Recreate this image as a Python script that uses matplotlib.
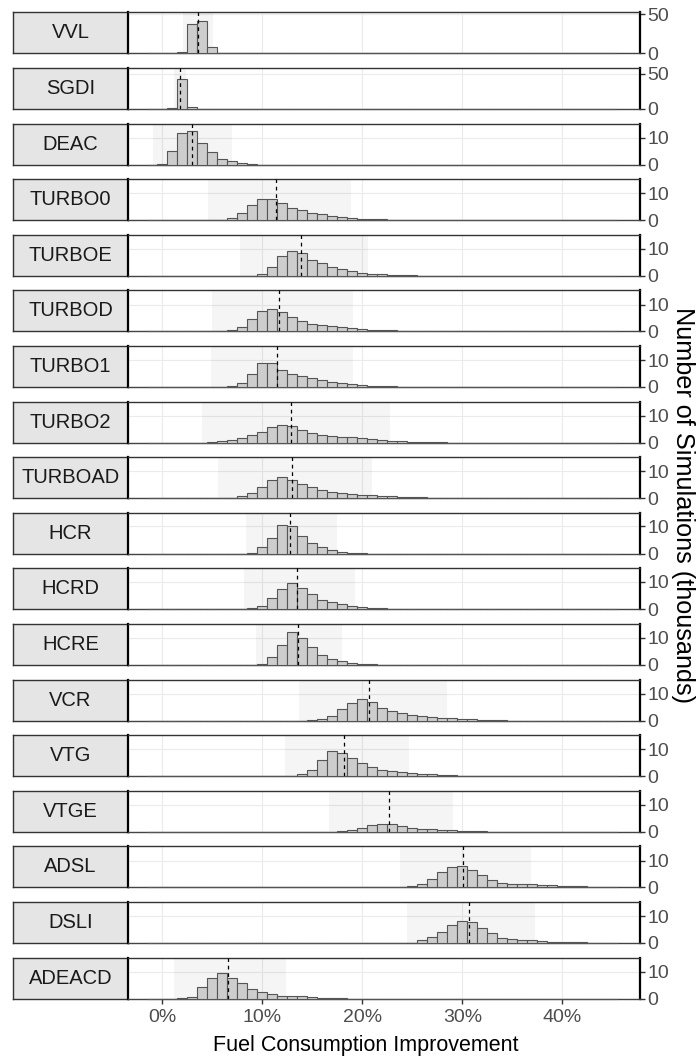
import numpy as np
import matplotlib
matplotlib.use("Agg")
import matplotlib.pyplot as plt

plt.rcParams['font.family'] = ['Liberation Sans', 'DejaVu Sans']

# facet labels, top to bottom
techs = ["VVL", "SGDI", "DEAC", "TURBO0", "TURBOE", "TURBOD", "TURBO1", "TURBO2",
         "TURBOAD", "HCR", "HCRD", "HCRE", "VCR", "VTG", "VTGE", "ADSL", "DSLI", "ADEACD"]

# histogram counts (thousands), 1% bins; first_bin = centre (%) of first listed bar
first_bin = [2, 1, 0, 7, 10, 7, 7, 5, 8, 9, 9, 10, 15, 14, 18, 25, 25, 2]
counts = [
    [1.3, 38, 41.2, 8.4],
    [1.9, 42.9, 2.9],
    [0.2, 5.1, 11.5, 12.4, 8.1, 4.5, 2.1, 1.25, 0.6, 0.25],
    [0.9, 2.7, 5.6, 7.9, 7.9, 6.25, 4.5, 3.6, 2.6, 2.1, 1.6, 1.1, 0.75, 0.5, 0.4, 0.3, 0.2, 0.15, 0.1],
    [0.6, 3.3, 7.2, 9.1, 8.5, 6.0, 4.7, 3.3, 2.4, 1.75, 1.1, 0.75, 0.5, 0.4, 0.25, 0.15],
    [0.6, 1.7, 4.5, 7.5, 8.5, 7.1, 5.4, 3.9, 2.9, 2.3, 1.9, 1.5, 1.1, 0.9, 0.6, 0.4, 0.3, 0.2, 0.1],
    [0.3, 1.4, 4.75, 8.9, 8.75, 6.4, 5.0, 4.1, 3.4, 2.5, 1.9, 1.4, 0.9, 0.6, 0.4, 0.25, 0.15],
    [0.2, 0.4, 0.9, 1.75, 2.75, 4.1, 5.6, 6.6, 6.25, 4.75, 3.4, 2.75, 2.5, 2.1, 1.9, 1.75,
     1.4, 0.9, 0.6, 0.4, 0.3, 0.25, 0.2, 0.1],
    [0.6, 1.9, 4.25, 6.6, 7.75, 6.9, 5.25, 4.0, 3.0, 2.25, 1.9, 1.6, 1.25, 1.0, 0.9, 0.6,
     0.5, 0.35, 0.25, 0.15, 0.1],
    [0.4, 2.4, 5.75, 10.4, 10.0, 6.4, 4.0, 2.5, 1.25, 0.75, 0.4, 0.2],
    [0.3, 1.1, 4.1, 7.4, 9.5, 7.9, 5.5, 3.25, 2.5, 1.9, 1.1, 0.75, 0.5, 0.4, 0.25, 0.15],
    [0.4, 2.9, 7.1, 11.9, 9.9, 6.4, 3.75, 2.0, 1.25, 0.75, 0.4, 0.2],
    [0.2, 0.6, 1.75, 4.1, 6.6, 8.0, 6.75, 4.6, 3.5, 2.9, 2.1, 1.5, 1.4, 1.0, 0.75, 0.5, 0.4, 0.3, 0.2, 0.1],
    [0.75, 2.4, 6.0, 9.4, 8.5, 6.6, 4.75, 3.45, 2.25, 2.0, 1.5, 1.0, 0.75, 0.6, 0.5, 0.3],
    [0.3, 0.6, 1.3, 2.6, 2.95, 2.85, 2.25, 1.5, 1.1, 0.85, 0.65, 0.5, 0.35, 0.25, 0.15],
    [0.5, 1.4, 3.25, 5.75, 7.6, 8.0, 6.6, 4.5, 2.6, 1.75, 1.4, 1.4, 1.1, 0.9, 0.75, 0.6, 0.4, 0.3, 0.2, 0.1],
    [0.1, 0.9, 2.2, 4.0, 6.6, 8.2, 7.7, 5.7, 3.7, 2.0, 1.3, 1.1, 1.0, 0.75, 0.5, 0.4, 0.25, 0.15, 0.1],
    [0.1, 0.6, 4.1, 7.6, 9.6, 7.75, 5.6, 3.5, 2.5, 1.75, 1.0, 0.9, 0.75, 0.4, 0.25, 0.2, 0.1],
]

# median (dashed line) and shaded interval, in %
medians = [3.53, 1.8, 2.93, 11.33, 13.9, 11.7, 11.5, 12.9, 12.93, 12.77, 13.5, 13.53,
           20.67, 18.17, 22.7, 30.1, 30.7, 6.53]
band_lo = [2.1, 1.2, -0.97, 4.53, 7.77, 4.93, 4.87, 4.0, 5.6, 8.33, 8.13, 9.37,
           13.63, 12.23, 16.7, 23.73, 24.45, 1.13]
band_hi = [5.03, 2.4, 6.93, 18.87, 20.6, 19.1, 19.03, 22.8, 21.0, 17.5, 19.27, 17.93,
           28.5, 24.63, 29.1, 36.83, 37.23, 12.33]

# y axis per facet
y_top = [52.6, 58, 15.2, 15.3, 15.3, 15.3, 15.3, 15.3, 15.3, 15.0, 15.0, 15.0, 15.2, 15.2, 15.2, 15.3, 15.3, 15.2]
y_ticks = [[0, 50], [0, 50]] + [[0, 10]] * 16

x_ticks = [0, 10, 20, 30, 40]
x_ticklabels = ["0%", "10%", "20%", "30%", "40%"]
bin_centres = np.arange(-1, 46)

W, H = 697, 1057
fig = plt.figure(figsize=(W / 100, H / 100), dpi=100)

px_left, px_right = 128.3, 640
strip_left = 12.7
panel_h = 41
step = 55.6

for i, name in enumerate(techs):
    top = 12.3 + step * i
    bottom_frac = 1 - (top + panel_h) / H

    # strip on the left
    sax = fig.add_axes([strip_left / W, bottom_frac, (px_left - strip_left) / W, panel_h / H])
    sax.set_facecolor("#e5e5e5")
    sax.set_xticks([])
    sax.set_yticks([])
    for s in sax.spines.values():
        s.set_color("#333333")
        s.set_linewidth(1.0)
    sax.text(0.5, 0.5, name, ha="center", va="center", fontsize=14.5, color="#1a1a1a",
             transform=sax.transAxes)

    ax = fig.add_axes([px_left / W, bottom_frac, (px_right - px_left) / W, panel_h / H])
    heights = np.zeros(len(bin_centres))
    start = first_bin[i] - bin_centres[0]
    heights[start:start + len(counts[i])] = counts[i]

    ax.axvspan(band_lo[i], band_hi[i], color="black", alpha=0.04, lw=0, zorder=1)
    bars = ax.bar(bin_centres, heights, width=1, color="#cdcdcd", edgecolor="#555555",
                  linewidth=0.8, zorder=3)
    for b in bars:
        b.set_clip_on(False)
    ax.axvline(medians[i], color="black", ls=(0, (3, 3)), lw=0.9, zorder=4)

    ax.set_xlim(-3.4, 47.75)
    ax.set_ylim(0, y_top[i])
    ax.set_xticks(x_ticks)
    ax.set_yticks(y_ticks[i])
    ax.grid(True, color="#ebebeb", lw=0.8)
    ax.set_axisbelow(True)

    ax.yaxis.tick_right()
    ax.tick_params(axis="y", length=3.5, width=1, color="#333333", labelsize=14,
                   labelcolor="#4d4d4d", pad=2)
    if i == len(techs) - 1:
        ax.set_xticklabels(x_ticklabels)
        ax.tick_params(axis="x", length=3.5, width=1, color="#333333", labelsize=14,
                       labelcolor="#4d4d4d", pad=4)
    else:
        ax.tick_params(axis="x", length=0, labelbottom=False)

    ax.spines["top"].set_color("#333333")
    ax.spines["bottom"].set_color("#444444")
    ax.spines["top"].set_linewidth(1.0)
    ax.spines["bottom"].set_linewidth(1.0)
    ax.spines["left"].set_color("black")
    ax.spines["right"].set_color("black")
    ax.spines["left"].set_linewidth(1.6)
    ax.spines["right"].set_linewidth(1.6)

fig.text(366 / W, 1 - 1045 / H, "Fuel Consumption Improvement",
         ha="center", va="center", fontsize=15.5, color="black")
fig.text(683 / W, 1 - 505 / H, "Number of Simulations (thousands)", rotation=270,
         ha="center", va="center", fontsize=18.2, color="black")

fig.savefig("out.png", dpi=100)
